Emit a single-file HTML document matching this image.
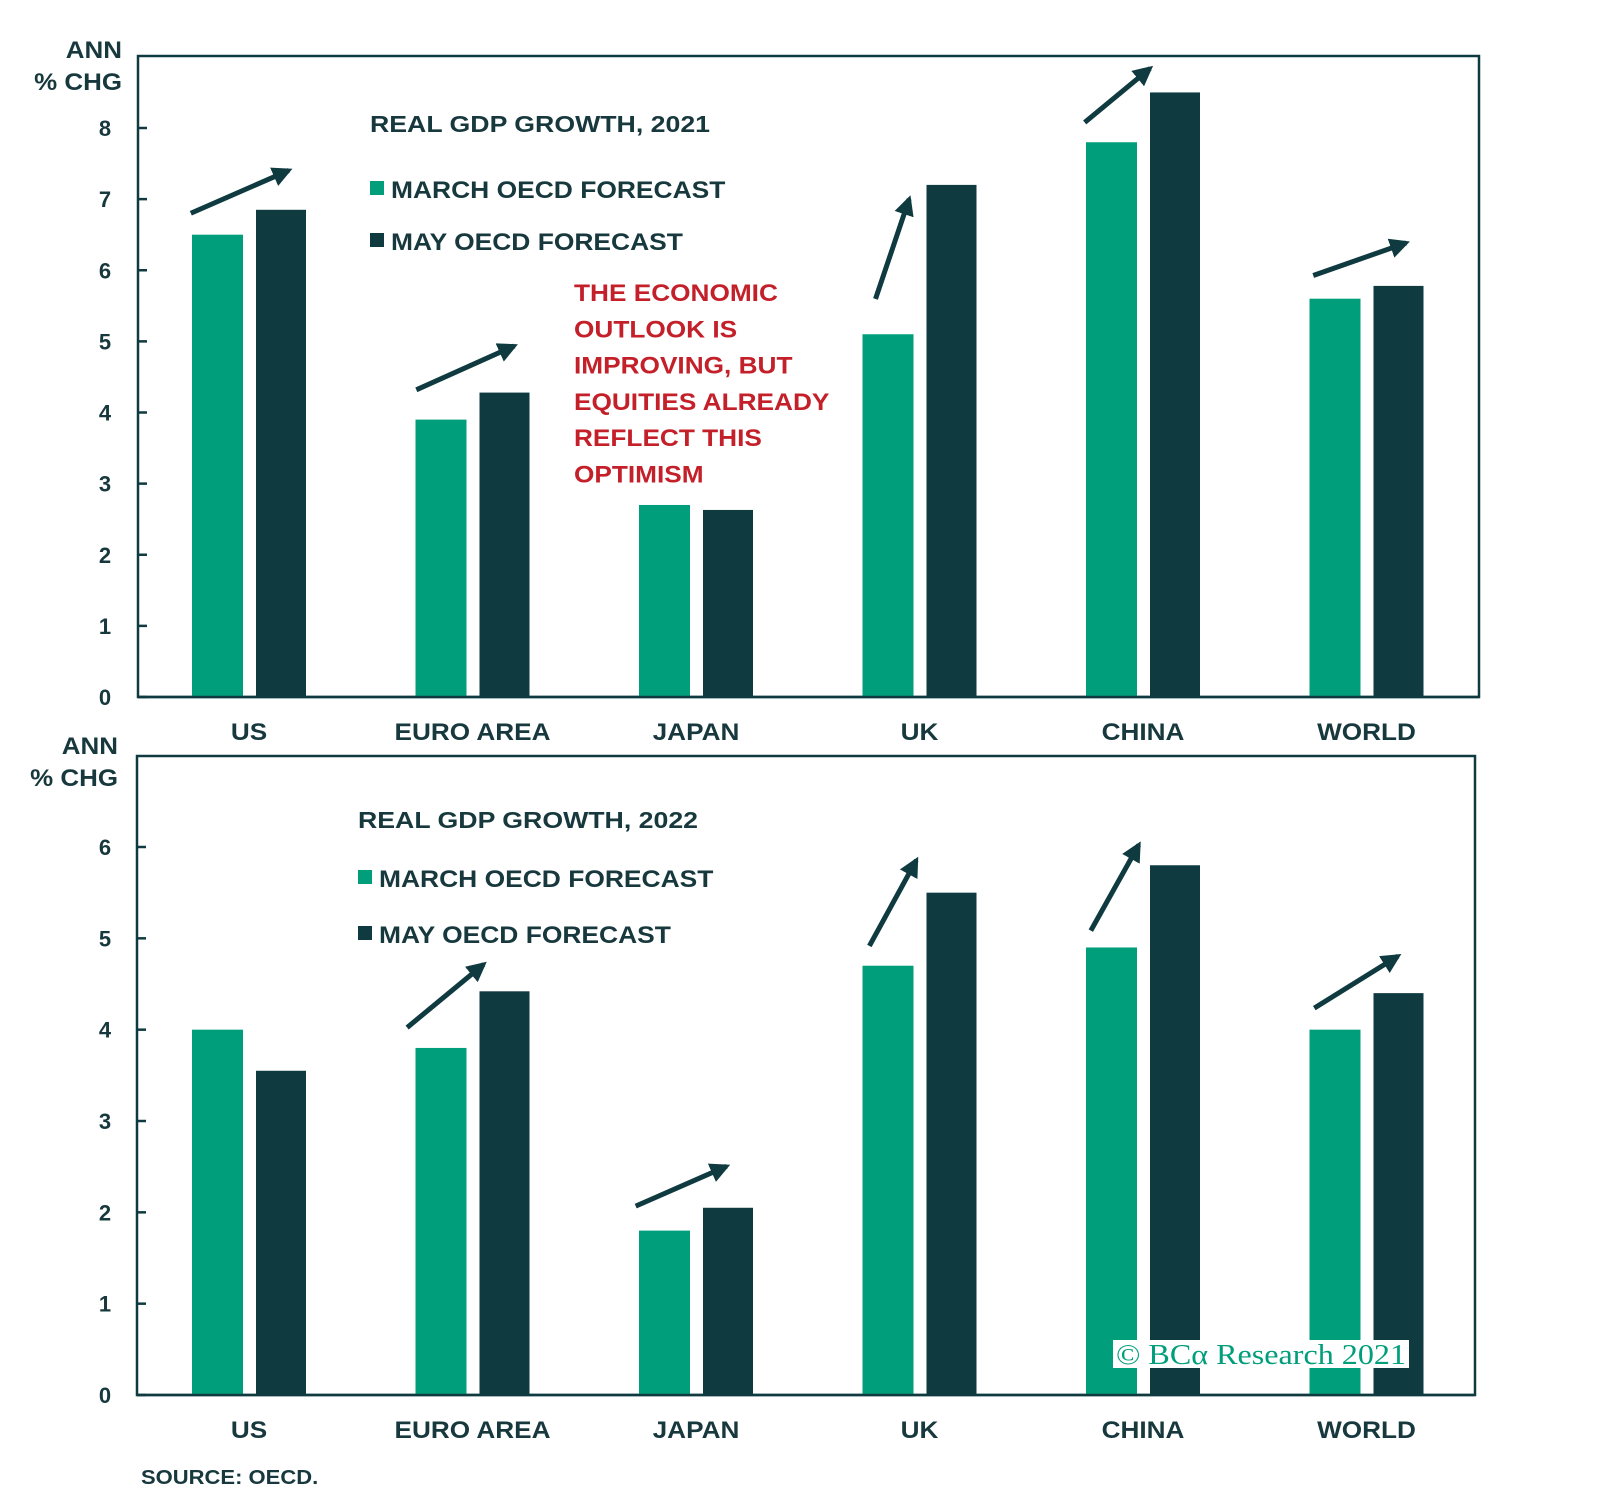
<!DOCTYPE html>
<html><head><meta charset="utf-8">
<style>
html,body{margin:0;padding:0;background:#fff;}
svg{display:block;font-family:"Liberation Sans",sans-serif;font-weight:bold;}
</style></head>
<body>
<svg id="chart" width="1600" height="1509" viewBox="0 0 1600 1509" xmlns="http://www.w3.org/2000/svg">
<defs>
<marker id="ah" viewBox="0 0 10 10" refX="8" refY="5" markerWidth="4" markerHeight="4" orient="auto"><path d="M0,0 L10,5 L0,10 z" fill="#0e3a40"/></marker>
</defs>
</svg>
<script>
const categories = ["US","EURO AREA","JAPAN","UK","CHINA","WORLD"];
const march2021 = [6.5,3.9,2.7,5.1,7.8,5.6];
const may2021 = [6.85,4.28,2.63,7.2,8.5,5.78];
const march2022 = [4.0,3.8,1.8,4.7,4.9,4.0];
const may2022 = [3.55,4.42,2.05,5.5,5.8,4.4];
const ticks2021 = [0,1,2,3,4,5,6,7,8];
const ticks2022 = [0,1,2,3,4,5,6];
const arrows2021 = [[187,209,283,167],[408,382,504,339],[858,293,891,195],[1063,120,1127,67],[1287,270,1378,238]];
const arrows2022 = [[399,1007,474,945],[623,1182,712,1143],[852,927,898,843],[1069,912,1116,828],[1288,988,1370,937]];

const NS="http://www.w3.org/2000/svg";
const svg=document.getElementById('chart');
const GREEN="#009e7a", DARK="#0e3a40", TXT="#17383d";
function mk(tag,attrs,parent){const e=document.createElementNS(NS,tag);for(const k in attrs)e.setAttribute(k,attrs[k]);(parent||svg).appendChild(e);return e;}
function txt(s,x,y,size,fill,anchor,parent){const t=mk('text',{x:x,y:y,'font-size':size,fill:fill,'text-anchor':anchor||'start'},parent);t.textContent=s;return t;}
function widen(t,f){const w=t.getComputedTextLength();t.setAttribute('textLength',(w*f).toFixed(1));t.setAttribute('lengthAdjust','spacingAndGlyphs');}
const S=1600/1568;

function panel(cfg){
  const g=mk('g',{});
  
  
  const L=cfg.left,R=cfg.right,T=cfg.top,B=cfg.bottom;
  const y=v=>B-(v/cfg.topTick)*(B-cfg.yTopPix);
  const xc=i=>249+i*223.5;
  const fr=mk('rect',{x:L,y:T,width:R-L,height:B-T,fill:'none',stroke:DARK,'stroke-width':2.5},g);
  
  
  cfg.ticks.forEach(v=>{
    const yy=y(v);
    const tl=mk('line',{x1:L,x2:L+9,y1:yy,y2:yy,stroke:DARK,'stroke-width':2.5},g);
    
    
    const t=txt(String(v),105,yy+8,22,TXT,'middle',g);
    
    
  });
  categories.forEach((c,i)=>{
    const a=mk('rect',{x:xc(i)-57,y:y(cfg.s1[i]),width:51,height:B-y(cfg.s1[i]),fill:GREEN},g);
    
    
    const b=mk('rect',{x:xc(i)+7,y:y(cfg.s2[i]),width:50,height:B-y(cfg.s2[i]),fill:DARK},g);
    
    
    const l=txt(c,xc(i),cfg.labelY,24,TXT,'middle',g);
    
    
    widen(l,1.09);
  });
  mk('line',{x1:L,x2:R,y1:B,y2:B,stroke:DARK,'stroke-width':2.5},g);
  cfg.arrows.forEach(a=>{
    const ln=mk('line',{x1:a[0]*S,y1:a[1]*S,x2:a[2]*S,y2:a[3]*S,stroke:DARK,'stroke-width':5,'marker-end':'url(#ah)'},g);
    
    
  });
  const y1=txt('ANN',cfg.axX,cfg.axY,24,TXT,'end',g);
  
  
  widen(y1,1.08);
  const y2=txt('% CHG',cfg.axX,cfg.axY+32,24,TXT,'end',g);
  
  
  widen(y2,1.08);
  const ti=txt(cfg.title,cfg.titleX-4,cfg.titleY,23,TXT,'start',g);
  
  
  widen(ti,1.16);
  [['MARCH OECD FORECAST',GREEN,cfg.leg1Y],['MAY OECD FORECAST',DARK,cfg.leg2Y]].forEach(([s,c,yy])=>{
    const sw=mk('rect',{x:cfg.titleX-4,y:yy-8,width:14,height:14,fill:c},g);
    
    
    const lt=txt(s,cfg.titleX+17,yy+9,24,TXT,'start',g);
    
    
    widen(lt,1.1);
  });
}
panel({name:'panel-2021',left:138,right:1479,top:56,bottom:697,yTopPix:128,topTick:8,ticks:ticks2021,s1:march2021,s2:may2021,labelY:740,arrows:arrows2021,axX:122,axY:58,title:'REAL GDP GROWTH, 2021',titleX:374,titleY:132,leg1Y:189,leg2Y:241});
panel({name:'panel-2022',left:137,right:1475,top:756,bottom:1395,yTopPix:847,topTick:6,ticks:ticks2022,s1:march2022,s2:may2022,labelY:1438,arrows:arrows2022,axX:118,axY:754,title:'REAL GDP GROWTH, 2022',titleX:362,titleY:828,leg1Y:878,leg2Y:934});

const red=["THE ECONOMIC","OUTLOOK IS","IMPROVING, BUT","EQUITIES ALREADY","REFLECT THIS","OPTIMISM"];
red.forEach((s,i)=>{
  const t=txt(s,574,301+i*36.3,24.5,'#c4202a','start');
  
  
  widen(t,1.07);
});
const src=txt('SOURCE: OECD.',141,1484,20,TXT,'start');


widen(src,1.1);
const wb=mk('rect',{x:1113,y:1340,width:296,height:28,fill:'#fff'});


const wm=mk('text',{x:1116,y:1364,'font-size':28,fill:GREEN,'font-family':'Liberation Serif, serif','font-weight':'normal',textLength:290,lengthAdjust:'spacingAndGlyphs'});
wm.textContent='© BCα Research 2021';


</script>
</body></html>
